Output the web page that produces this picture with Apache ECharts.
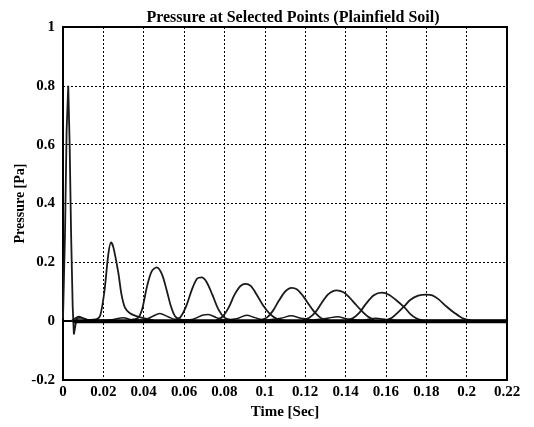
<!DOCTYPE html>
<html>
<head>
<meta charset="utf-8">
<script src="https://cdn.jsdelivr.net/npm/echarts@6/dist/echarts.min.js"></script>
<style>
  html, body { margin: 0; padding: 0; background: #fff; }
</style>
</head>
<body>
<div id="chart" style="width:534px;height:427px"></div>
<script>
// tick labels
const xTicks = [0, 0.02, 0.04, 0.06, 0.08, 0.1, 0.12, 0.14, 0.16, 0.18, 0.2, 0.22]
const yTicks = [-0.2, 0, 0.2, 0.4, 0.6, 0.8, 1]

// pressure pulses at the selected points, [time, pressure]
const pulse1 = [[0, 0.01], [0.001, 0.3], [0.0018, 0.65], [0.0026, 0.8], [0.0033, 0.6], [0.004, 0.3],
  [0.0048, 0.05], [0.0054, -0.045], [0.006, -0.02], [0.0068, 0.01], [0.009, 0.012], [0.012, 0.005], [0.016, 0.003]]
const pulse2 = [[0.012, 0.004], [0.017, 0.008], [0.0185, 0.02], [0.0205, 0.1], [0.0225, 0.23], [0.0238, 0.268],
  [0.025, 0.25], [0.0274, 0.165], [0.029, 0.09], [0.0307, 0.046], [0.033, 0.028], [0.036, 0.018], [0.040, 0.01], [0.045, 0.003]]
const pulse3 = [[0.034, 0.005], [0.037, 0.01], [0.039, 0.035], [0.0417, 0.12], [0.044, 0.17], [0.0464, 0.183],
  [0.049, 0.16], [0.0513, 0.107], [0.0535, 0.05], [0.0555, 0.017], [0.058, 0.006], [0.062, 0.002]]
const pulse4 = [[0.055, 0.004], [0.058, 0.012], [0.061, 0.05], [0.064, 0.11], [0.0665, 0.145], [0.0687, 0.149],
  [0.071, 0.135], [0.074, 0.09], [0.077, 0.04], [0.080, 0.012], [0.083, 0.004]]
const pulse5 = [[0.076, 0.004], [0.079, 0.015], [0.082, 0.045], [0.085, 0.09], [0.088, 0.12], [0.0905, 0.127],
  [0.093, 0.12], [0.096, 0.09], [0.099, 0.055], [0.1025, 0.025], [0.106, 0.008], [0.110, 0.002]]
const pulse6 = [[0.098, 0.004], [0.101, 0.012], [0.104, 0.035], [0.107, 0.07], [0.110, 0.1], [0.1132, 0.113],
  [0.116, 0.108], [0.119, 0.085], [0.122, 0.055], [0.125, 0.028], [0.128, 0.01], [0.132, 0.003]]
const pulse7 = [[0.119, 0.004], [0.122, 0.012], [0.125, 0.03], [0.128, 0.06], [0.1315, 0.092], [0.1355, 0.105],
  [0.139, 0.098], [0.142, 0.08], [0.145, 0.057], [0.148, 0.035], [0.151, 0.016], [0.154, 0.005]]
const pulse8 = [[0.141, 0.004], [0.144, 0.012], [0.147, 0.03], [0.150, 0.058], [0.154, 0.088], [0.158, 0.097],
  [0.1615, 0.09], [0.165, 0.072], [0.1693, 0.046], [0.172, 0.025], [0.175, 0.01], [0.178, 0.003]]
const pulse9 = [[0.160, 0.004], [0.163, 0.012], [0.166, 0.03], [0.169, 0.05], [0.172, 0.072], [0.176, 0.087],
  [0.180, 0.09], [0.183, 0.088], [0.186, 0.075], [0.190, 0.05], [0.194, 0.028], [0.198, 0.01], [0.202, 0.003]]
// the small echoes riding near zero
const echo = [[0.004, 0], [0.008, 0.016], [0.011, 0.006], [0.016, 0.003], [0.024, 0.005], [0.030, 0.012], [0.034, 0.005],
  [0.040, 0.004], [0.044, 0.015], [0.048, 0.026], [0.052, 0.015], [0.057, 0.004], [0.064, 0.006], [0.069, 0.02],
  [0.072, 0.023], [0.076, 0.012], [0.080, 0.004], [0.086, 0.008], [0.091, 0.02], [0.095, 0.012], [0.100, 0.004],
  [0.108, 0.01], [0.113, 0.018], [0.118, 0.01], [0.124, 0.004], [0.131, 0.01], [0.136, 0.015], [0.141, 0.007],
  [0.148, 0.003], [0.155, 0.01], [0.160, 0.006], [0.166, 0.002], [0.22, 0.002]]
// the pile of curves sitting on zero
const baseline = [[0.005, 0], [0.22, 0]]

const pulses = [pulse1, pulse2, pulse3, pulse4, pulse5, pulse6, pulse7, pulse8, pulse9]

const labelFont = {
  fontFamily: 'Liberation Serif',
  fontWeight: 'bold',
  fontSize: 15,
  color: '#000'
}

const series = []
pulses.forEach((p, i) => {
  series.push({
    name: 'P' + (i + 1),
    type: 'line',
    data: p,
    smooth: i === 0 ? false : 0.3,
    symbol: 'none',
    lineStyle: { color: '#1a1a1a', width: 1.8 },
    z: 3
  })
})
series.push({
  name: 'echo',
  type: 'line',
  data: echo,
  smooth: 0.3,
  symbol: 'none',
  lineStyle: { color: '#1a1a1a', width: 1.5 },
  z: 2
})
series.push({
  name: 'base',
  type: 'line',
  data: baseline,
  symbol: 'none',
  lineStyle: { color: '#000', width: 4 },
  z: 4
})

const myChart = echarts.init(document.getElementById('chart'))
myChart.setOption({
  animation: false,
  title: {
    text: 'Pressure at Selected Points (Plainfield Soil)',
    left: 288,
    textAlign: 'center',
    top: 5,
    textStyle: {
      fontFamily: 'Liberation Serif',
      fontWeight: 'bold',
      fontSize: 16,
      color: '#000'
    }
  },
  grid: {
    left: 63,
    right: 27,
    top: 27,
    bottom: 47,
    show: true,
    borderColor: '#000',
    borderWidth: 2
  },
  xAxis: {
    type: 'value',
    min: xTicks[0],
    max: xTicks[xTicks.length - 1],
    interval: 0.02,
    name: 'Time [Sec]',
    nameLocation: 'middle',
    nameGap: 22,
    nameTextStyle: labelFont,
    axisLine: { lineStyle: { color: '#000', width: 2 } },
    axisTick: { show: false },
    axisLabel: Object.assign({ margin: 5 }, labelFont),
    splitLine: { lineStyle: { color: '#000', type: [2, 2], width: 1 } }
  },
  yAxis: {
    type: 'value',
    min: yTicks[0],
    max: yTicks[yTicks.length - 1],
    interval: 0.2,
    name: 'Pressure [Pa]',
    nameLocation: 'middle',
    nameGap: 36,
    nameMoveOverlap: false,
    nameTextStyle: Object.assign({}, labelFont, { fontSize: 14 }),
    axisLine: { show: true, lineStyle: { color: '#000', width: 2 } },
    axisTick: { show: false },
    axisLabel: Object.assign({ margin: 8 }, labelFont),
    splitLine: { lineStyle: { color: '#000', type: [2, 2], width: 1 } }
  },
  series: series
})
</script>
</body>
</html>
